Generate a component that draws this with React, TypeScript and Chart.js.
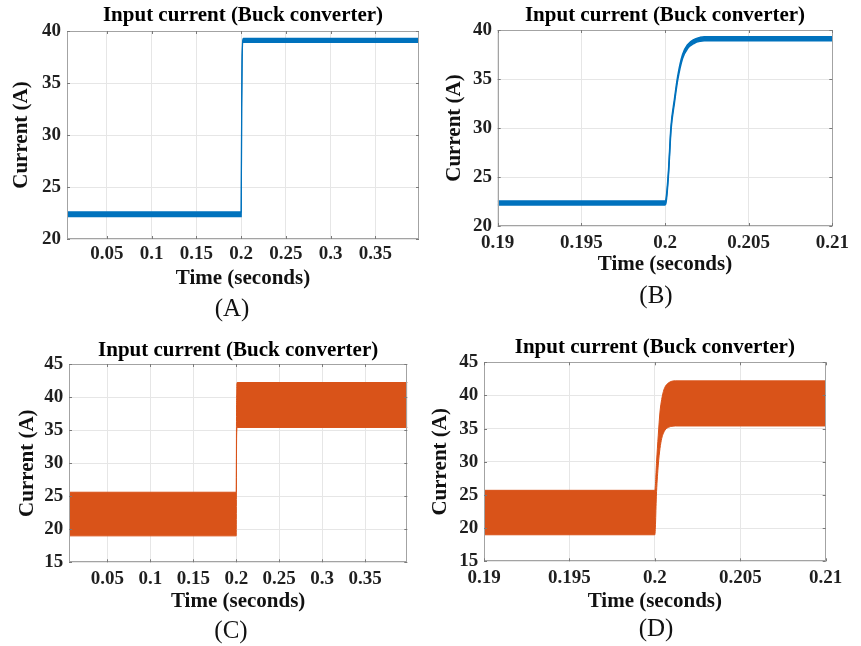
import React, { useEffect, useRef } from "react";
import { Chart, registerables } from "chart.js";

Chart.register(...registerables);

// ---------- text ----------
const CHART_TITLE = "Input current (Buck converter)";
const X_TITLE = "Time (seconds)";
const Y_TITLE = "Current (A)";

// ---------- tick values / labels ----------
const xTicksFull = [0.05, 0.1, 0.15, 0.2, 0.25, 0.3, 0.35];
const xLabelsFull = ["0.05", "0.1", "0.15", "0.2", "0.25", "0.3", "0.35"];
const xTicksZoom = [0.19, 0.195, 0.2, 0.205, 0.21];
const xLabelsZoom = ["0.19", "0.195", "0.2", "0.205", "0.21"];
const yTicksAB = [20, 25, 30, 35, 40];
const yLabelsAB = ["20", "25", "30", "35", "40"];
const yTicksCD = [15, 20, 25, 30, 35, 40, 45];
const yLabelsCD = ["15", "20", "25", "30", "35", "40", "45"];

// ---------- (A) full run, blue (upper / lower edge of ripple band) ----------
const timeA = [0, 0.2, 0.2005, 0.201, 0.2023, 0.4];
const upperA = [22.6, 22.6, 32.9, 37.5, 39.3, 39.3];
const lowerA = [22.15, 22.15, 32.5, 37.1, 38.9, 38.9];

// ---------- (B) zoom around the step, blue ----------
const timeB = [0.19, 0.2, 0.20006, 0.2002, 0.20036, 0.20056, 0.20076, 0.20105, 0.20135, 0.20175, 0.2021, 0.20235, 0.21];
const upperB = [22.55, 22.55, 22.75, 25.4, 30.2, 32.9, 35.3, 37.5, 38.5, 39.05, 39.25, 39.3, 39.3];
const lowerB = [22.15, 22.15, 22.35, 25.0, 29.8, 32.5, 34.9, 37.1, 38.1, 38.65, 38.85, 38.9, 38.9];

// ---------- (C) full run, orange ----------
const timeC = [0, 0.2, 0.2003, 0.2006, 0.201, 0.4];
const upperC = [25.6, 25.6, 37.6, 41.3, 42.2, 42.2];
const lowerC = [19.0, 19.0, 32.0, 34.8, 35.4, 35.4];

// ---------- (D) zoom around the step, orange ----------
const timeD = [0.19, 0.2, 0.2001, 0.2002, 0.2003, 0.2004, 0.2005, 0.2006, 0.2008, 0.201, 0.2012, 0.21];
const upperD = [25.7, 25.7, 30.0, 34.0, 37.5, 39.4, 40.6, 41.3, 41.9, 42.15, 42.2, 42.2];
const lowerD = [19.0, 19.0, 25.5, 29.5, 32.0, 33.5, 34.3, 34.8, 35.2, 35.35, 35.4, 35.4];

const BLUE = "#0072BD";
const ORANGE = "#D95319";
const SERIF = "'Liberation Serif', 'Times New Roman', serif";

type Spec = {
  key: string;
  left: number;
  top: number;
  width: number;
  height: number;
  time: number[];
  upper: number[];
  lower: number[];
  color: string;
  xMin: number;
  xMax: number;
  xTicks: number[];
  xLabels: string[];
  yMin: number;
  yMax: number;
  yTicks: number[];
  yLabels: string[];
  pad: { left: number; right: number; top: number; bottom: number };
  titlePad: { top: number; bottom: number };
  yAxisWidth: number;
  xAxisHeight: number;
  yTitlePad: number;
  yTickPad: number;
  xTickPad: number;
  borderWidth: number;
  label: string;
  labelX: number;
  labelY: number;
};

const panels: Spec[] = [
  {
    key: "A", left: 0, top: 0, width: 430, height: 320,
    time: timeA, upper: upperA, lower: lowerA, color: BLUE,
    xMin: 0.0054, xMax: 0.3986, xTicks: xTicksFull, xLabels: xLabelsFull,
    yMin: 20, yMax: 40, yTicks: yTicksAB, yLabels: yLabelsAB,
    pad: { left: 0, right: 11, top: 0, bottom: 28.4 },
    titlePad: { top: 3, bottom: 2.8 },
    yAxisWidth: 67, xAxisHeight: 52.6, yTitlePad: 9.4, yTickPad: 6, xTickPad: 3.4,
    borderWidth: 1.2, label: "(A)", labelX: 232, labelY: 308,
  },
  {
    key: "B", left: 430, top: 0, width: 431, height: 320,
    time: timeB, upper: upperB, lower: lowerB, color: BLUE,
    xMin: 0.19, xMax: 0.21, xTicks: xTicksZoom, xLabels: xLabelsZoom,
    yMin: 20, yMax: 40, yTicks: yTicksAB, yLabels: yLabelsAB,
    pad: { left: 0, right: 28.7, top: 0, bottom: 42.4 },
    titlePad: { top: 3.4, bottom: 1.4 },
    yAxisWidth: 67.7, xAxisHeight: 51.6, yTitlePad: 12.4, yTickPad: 5.7, xTickPad: 5.4,
    borderWidth: 1.5, label: "(B)", labelX: 656, labelY: 295,
  },
  {
    key: "C", left: 0, top: 320, width: 430, height: 326,
    time: timeC, upper: upperC, lower: lowerC, color: ORANGE,
    xMin: 0.0054, xMax: 0.399, xTicks: xTicksFull, xLabels: xLabelsFull,
    yMin: 15, yMax: 45, yTicks: yTicksCD, yLabels: yLabelsCD,
    pad: { left: 0, right: 22.7, top: 0, bottom: 31.7 },
    titlePad: { top: 18.2, bottom: 0.6 },
    yAxisWidth: 69, xAxisHeight: 52, yTitlePad: 14.9, yTickPad: 5.7, xTickPad: 5.8,
    borderWidth: 1, label: "(C)", labelX: 231, labelY: 630,
  },
  {
    key: "D", left: 425, top: 320, width: 436, height: 326,
    time: timeD, upper: upperD, lower: lowerD, color: ORANGE,
    xMin: 0.19, xMax: 0.21, xTicks: xTicksZoom, xLabels: xLabelsZoom,
    yMin: 15, yMax: 45, yTicks: yTicksCD, yLabels: yLabelsCD,
    pad: { left: 0, right: 35.3, top: 0, bottom: 31.7 },
    titlePad: { top: 15.4, bottom: 1.7 },
    yAxisWidth: 59, xAxisHeight: 53, yTitlePad: 3.2, yTickPad: 5.7, xTickPad: 5.6,
    borderWidth: 1, label: "(D)", labelX: 656, labelY: 628,
  },
];

const BOX_COLOR = "#a3a3a3";
const GRID_COLOR = "#e6e6e6";
const TICK_TEXT = "#1f1f1f";

const boxPlugin = {
  id: "matlabBox",
  afterDatasetsDraw(chart: any) {
    const { ctx, chartArea } = chart;
    const { left, right, top, bottom } = chartArea;
    ctx.save();
    ctx.strokeStyle = BOX_COLOR;
    ctx.lineWidth = 1;
    ctx.strokeRect(Math.round(left) + 0.5, Math.round(top) + 0.5, Math.round(right - left) - 1, Math.round(bottom - top) - 1);
    ctx.strokeStyle = "#7a7a7a";
    ctx.beginPath();
    const xs = chart.scales.x;
    const ys = chart.scales.y;
    const tl = 3;
    xs.ticks.forEach((t: any) => {
      const px = Math.round(xs.getPixelForValue(t.value)) + 0.5;
      ctx.moveTo(px, bottom);
      ctx.lineTo(px, bottom - tl);
      ctx.moveTo(px, top);
      ctx.lineTo(px, top + tl);
    });
    ys.ticks.forEach((t: any) => {
      const py = Math.round(ys.getPixelForValue(t.value)) + 0.5;
      ctx.moveTo(left, py);
      ctx.lineTo(left + tl, py);
      ctx.moveTo(right, py);
      ctx.lineTo(right - tl, py);
    });
    ctx.stroke();
    ctx.restore();
  },
};

function Panel({ spec }: { spec: Spec }) {
  const ref = useRef<HTMLCanvasElement | null>(null);
  useEffect(() => {
    if (!ref.current) return;
    const s = spec;
    const upperPts = s.time.map((t, i) => ({ x: t, y: s.upper[i] }));
    const lowerPts = s.time.map((t, i) => ({ x: t, y: s.lower[i] }));
    const chart = new Chart(ref.current, {
      type: "line",
      data: {
        datasets: [
          {
            data: upperPts,
            borderColor: s.color,
            backgroundColor: s.color,
            borderWidth: s.borderWidth,
            pointRadius: 0,
            fill: false,
            cubicInterpolationMode: "monotone",
          },
          {
            data: lowerPts,
            borderColor: s.color,
            backgroundColor: s.color,
            borderWidth: s.borderWidth,
            pointRadius: 0,
            fill: "-1",
            cubicInterpolationMode: "monotone",
          },
        ],
      },
      options: {
        animation: false,
        responsive: false,
        maintainAspectRatio: false,
        devicePixelRatio: 1,
        layout: { padding: s.pad },
        plugins: {
          legend: { display: false },
          tooltip: { enabled: false },
          title: {
            display: true,
            text: CHART_TITLE,
            fullSize: false,
            color: "#000",
            font: { family: SERIF, size: 21, weight: "bold", lineHeight: 1.2 },
            padding: s.titlePad,
          },
        },
        scales: {
          x: {
            type: "linear",
            min: s.xMin,
            max: s.xMax,
            afterBuildTicks: (scale: any) => {
              scale.ticks = s.xTicks.map((v) => ({ value: v }));
            },
            afterFit: (scale: any) => {
              scale.height = s.xAxisHeight;
            },
            ticks: {
              autoSkip: false,
              maxRotation: 0,
              padding: s.xTickPad,
              color: TICK_TEXT,
              font: { family: SERIF, size: 19, weight: "bold", lineHeight: 1.2 },
              callback: (_v: any, i: number) => s.xLabels[i],
            },
            grid: { color: GRID_COLOR, lineWidth: 1, drawTicks: false },
            border: { display: false },
            title: {
              display: true,
              text: X_TITLE,
              color: "#111",
              font: { family: SERIF, size: 21, weight: "bold", lineHeight: 1.2 },
              padding: { top: 0, bottom: 0 },
            },
          },
          y: {
            type: "linear",
            min: s.yMin,
            max: s.yMax,
            afterBuildTicks: (scale: any) => {
              scale.ticks = s.yTicks.map((v) => ({ value: v }));
            },
            afterFit: (scale: any) => {
              scale.width = s.yAxisWidth;
            },
            ticks: {
              autoSkip: false,
              padding: s.yTickPad,
              color: TICK_TEXT,
              font: { family: SERIF, size: 19, weight: "bold", lineHeight: 1.2 },
              callback: (_v: any, i: number) => s.yLabels[i],
            },
            grid: { color: GRID_COLOR, lineWidth: 1, drawTicks: false },
            border: { display: false },
            title: {
              display: true,
              text: Y_TITLE,
              color: "#111",
              font: { family: SERIF, size: 21, weight: "bold", lineHeight: 1.2 },
              padding: { top: s.yTitlePad, bottom: 0 },
            },
          },
        },
      } as any,
      plugins: [boxPlugin],
    });
    return () => chart.destroy();
  }, [spec]);

  return (
    <>
      <canvas
        ref={ref}
        width={spec.width}
        height={spec.height}
        style={{
          position: "absolute",
          left: spec.left,
          top: spec.top,
          width: spec.width,
          height: spec.height,
          display: "block",
        }}
      />
      <div
        style={{
          position: "absolute",
          left: spec.labelX - 50,
          top: spec.labelY - 15,
          width: 100,
          height: 30,
          lineHeight: "30px",
          textAlign: "center",
          fontFamily: SERIF,
          fontSize: 25,
          color: "#111",
        }}
      >
        {spec.label}
      </div>
    </>
  );
}

export default function App() {
  return (
    <div
      style={{
        position: "fixed",
        left: 0,
        top: 0,
        width: 861,
        height: 646,
        background: "#ffffff",
        overflow: "hidden",
      }}
    >
      {panels.map((p) => (
        <Panel key={p.key} spec={p} />
      ))}
    </div>
  );
}
